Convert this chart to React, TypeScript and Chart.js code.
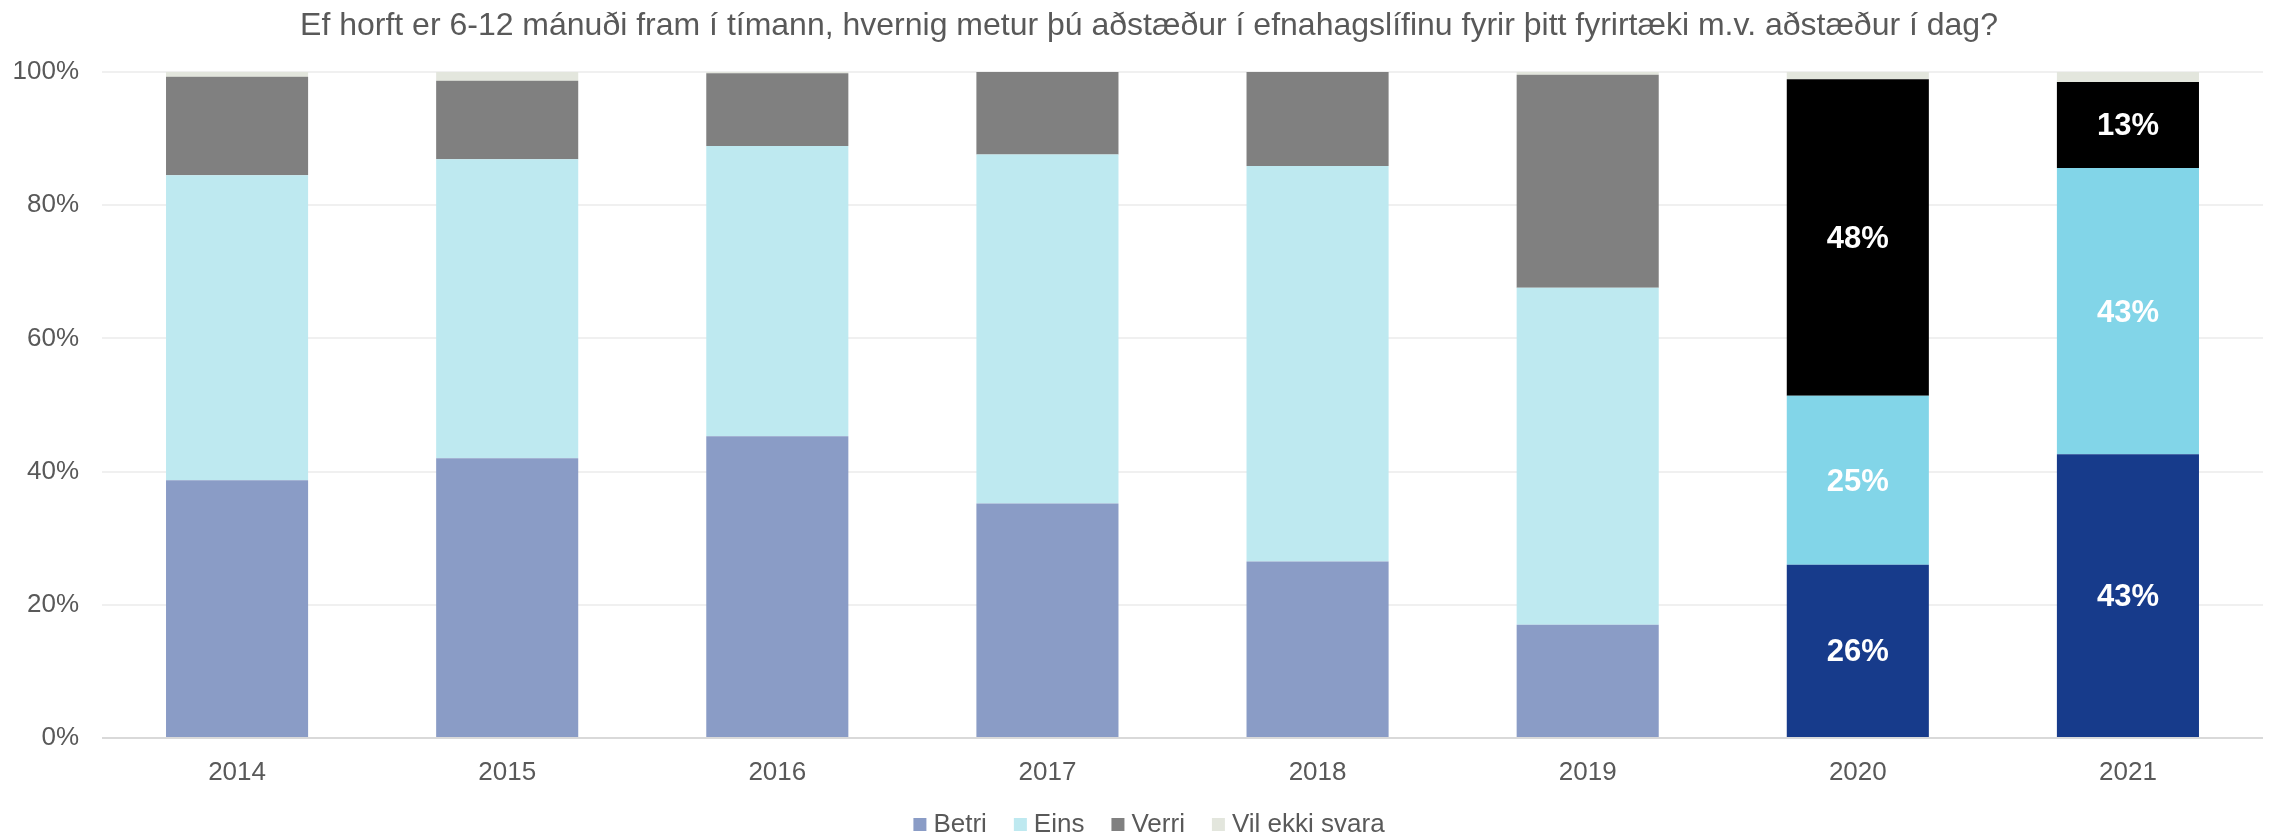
import React, { useEffect, useRef } from "react";
import { Chart, registerables } from "chart.js";

Chart.register(...registerables);

const TITLE =
  "Ef horft er 6-12 mánuði fram í tímann, hvernig metur þú aðstæður í efnahagslífinu fyrir þitt fyrirtæki m.v. aðstæður í dag?";

const categories = ["2014", "2015", "2016", "2017", "2018", "2019", "2020", "2021"];
const seriesNames = ["Betri", "Eins", "Verri", "Vil ekki svara"];
const betri = [38.7, 42.0, 45.3, 35.2, 26.5, 17.0, 26.0, 42.6];
const eins = [45.8, 44.9, 43.6, 52.4, 59.4, 50.6, 25.4, 43.0];
const verri = [14.8, 11.8, 10.9, 12.4, 14.1, 32.0, 47.5, 12.9];
const vilEkki = [0.7, 1.3, 0.2, 0.0, 0.0, 0.4, 1.1, 1.5];
const yTicks = [0, 20, 40, 60, 80, 100];
const labelledYears = ["2020", "2021"];

const fadedColors = ["#8A9CC6", "#BEE9F0", "#808080", "#E3E6DD"];
const strongColors = ["#173B8B", "#82D5E8", "#000000", "#E3E6DD"];

const FONT = "'Liberation Sans', Arial, sans-serif";
const TEXT = "#595959";
const PAD_RIGHT = 7;
const TEXT_CENTER_SHIFT = 35;

const valueLabels = {
  id: "valueLabels",
  afterDatasetsDraw(chart: any) {
    const ctx = chart.ctx;
    ctx.save();
    ctx.fillStyle = "#FFFFFF";
    ctx.font = `bold 31px ${FONT}`;
    ctx.textAlign = "center";
    ctx.textBaseline = "middle";
    for (let d = 0; d < 3; d++) {
      const meta = chart.getDatasetMeta(d);
      const data = chart.data.datasets[d].data as number[];
      meta.data.forEach((el: any, i: number) => {
        if (!labelledYears.includes(categories[i])) return;
        const { x, y, base } = el.getProps(["x", "y", "base"], true);
        ctx.fillText(Math.round(data[i]) + "%", x, (y + base) / 2 + 2);
      });
    }
    ctx.restore();
  },
};

const titleAndLegend = {
  id: "titleAndLegend",
  afterDraw(chart: any) {
    const ctx = chart.ctx;
    const center = (TEXT_CENTER_SHIFT + chart.width - PAD_RIGHT) / 2;
    ctx.save();
    // title
    ctx.font = `32px ${FONT}`;
    ctx.fillStyle = TEXT;
    ctx.textAlign = "center";
    ctx.textBaseline = "middle";
    ctx.fillText(TITLE, center, 26);
    // legend
    ctx.font = `26px ${FONT}`;
    ctx.textAlign = "left";
    const box = 13;
    const gap = 7;
    const spacing = 27;
    const widths = seriesNames.map((n) => ctx.measureText(n).width);
    const total =
      widths.reduce((a, w) => a + box + gap + w, 0) + spacing * (seriesNames.length - 1);
    let x = center - total / 2;
    const y = chart.height - 14;
    seriesNames.forEach((n, s) => {
      ctx.fillStyle = fadedColors[s];
      ctx.fillRect(x, y - 6, box, box);
      ctx.fillStyle = TEXT;
      ctx.fillText(n, x + box + gap, y + 1);
      x += box + gap + widths[s] + spacing;
    });
    ctx.restore();
  },
};

export default function App() {
  const ref = useRef<HTMLCanvasElement | null>(null);

  useEffect(() => {
    if (!ref.current) return;
    const series = [betri, eins, verri, vilEkki];
    const chart = new Chart(ref.current, {
      type: "bar",
      data: {
        labels: categories,
        datasets: series.map((vals, s) => ({
          label: seriesNames[s],
          data: vals,
          backgroundColor: categories.map((c) =>
            labelledYears.includes(c) ? strongColors[s] : fadedColors[s]
          ),
          borderWidth: 0,
          barPercentage: 0.526,
          categoryPercentage: 1,
        })),
      },
      options: {
        animation: false,
        responsive: true,
        maintainAspectRatio: false,
        layout: { padding: { left: 0, right: PAD_RIGHT, top: 72, bottom: 52 } },
        plugins: {
          title: { display: false },
          legend: { display: false },
          tooltip: { enabled: false },
        },
        scales: {
          x: {
            stacked: true,
            grid: { display: false, drawTicks: false },
            border: { display: false },
            afterFit: (scale: any) => {
              scale.height = 48;
            },
            ticks: { color: TEXT, font: { family: FONT, size: 26 }, padding: 19 },
          },
          y: {
            stacked: true,
            min: 0,
            max: 100,
            afterFit: (scale: any) => {
              scale.width = 102;
            },
            afterBuildTicks: (scale: any) => {
              scale.ticks = yTicks.map((v) => ({ value: v }));
            },
            grid: {
              drawTicks: false,
              lineWidth: 2,
              color: (c: any) => (c.tick && c.tick.value === 0 ? "#D9D9D9" : "#F0F0F0"),
            },
            border: { display: false },
            ticks: {
              color: TEXT,
              font: { family: FONT, size: 26 },
              padding: 23,
              callback: (v: any) => v + "%",
            },
          },
        },
      },
      plugins: [valueLabels, titleAndLegend],
    });
    return () => chart.destroy();
  }, []);

  return (
    <div style={{ position: "fixed", left: 0, top: 0, width: 2270, height: 838 }}>
      <canvas ref={ref} />
    </div>
  );
}
